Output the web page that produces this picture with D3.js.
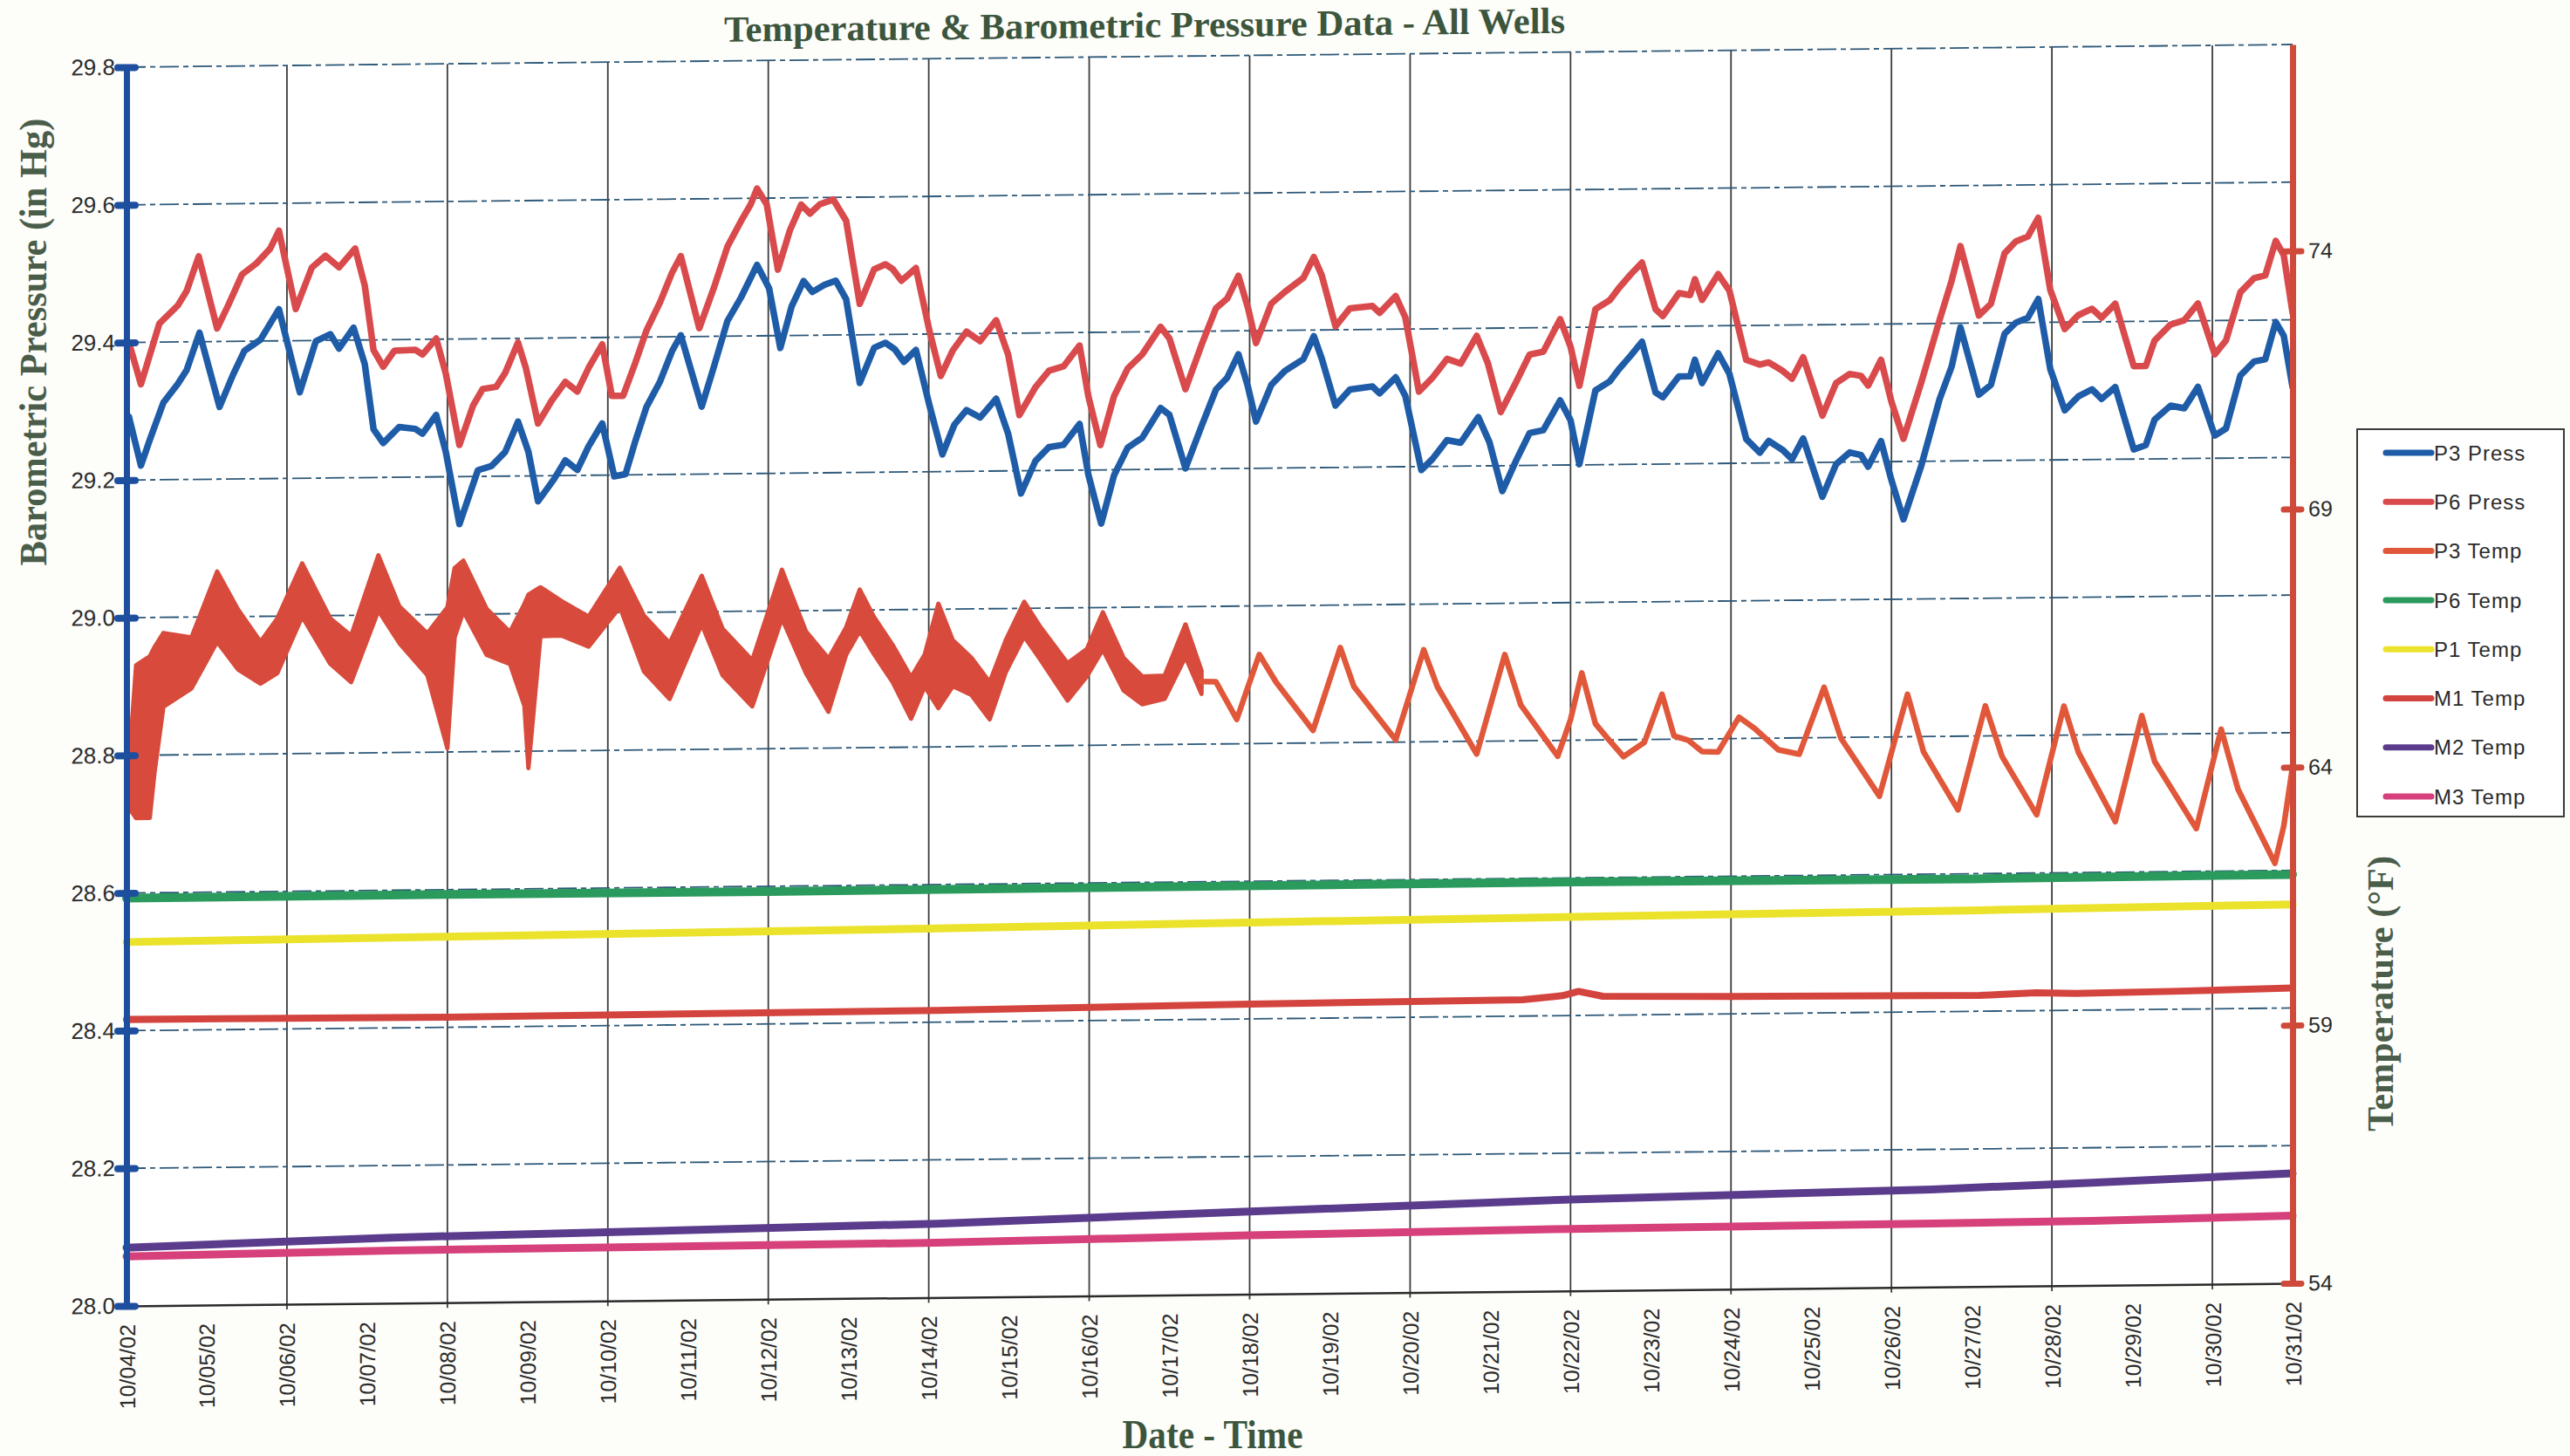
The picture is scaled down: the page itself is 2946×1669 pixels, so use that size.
<!DOCTYPE html>
<html>
<head>
<meta charset="utf-8">
<script src="https://cdn.jsdelivr.net/npm/d3@7"></script>
<style>
  body { margin: 0; background: #fdfdf9; }
</style>
</head>
<body>
<div id="chart"></div>
<script>
// x = days since 10/04/02 00:00
const dateLabels = ['10/04/02', '10/05/02', '10/06/02', '10/07/02', '10/08/02', '10/09/02', '10/10/02',
  '10/11/02', '10/12/02', '10/13/02', '10/14/02', '10/15/02', '10/16/02', '10/17/02', '10/18/02',
  '10/19/02', '10/20/02', '10/21/02', '10/22/02', '10/23/02', '10/24/02', '10/25/02', '10/26/02',
  '10/27/02', '10/28/02', '10/29/02', '10/30/02', '10/31/02'];
const leftTicks = [28.0, 28.2, 28.4, 28.6, 28.8, 29.0, 29.2, 29.4, 29.6, 29.8];
const rightTicks = [54, 59, 64, 69, 74];

const p6PressDays = [0.03, 0.18, 0.41, 0.64, 0.75, 0.90, 1.13, 1.27, 1.44, 1.62, 1.79, 1.90, 2.11, 2.31, 2.48, 2.65, 2.85, 2.97,
  3.08, 3.20, 3.34, 3.60, 3.69, 3.86, 3.98, 4.15, 4.32, 4.44, 4.61, 4.72, 4.88, 4.98, 5.13, 5.30, 5.47, 5.62, 5.76, 5.93,
  6.05, 6.19, 6.34, 6.48, 6.65, 6.80, 6.91, 7.14, 7.32, 7.49, 7.66, 7.78, 7.86, 7.98, 8.12, 8.27, 8.41, 8.52, 8.64, 8.81,
  8.97, 9.14, 9.32, 9.46, 9.55, 9.66, 9.84, 10.01, 10.15, 10.30, 10.47, 10.64, 10.84, 10.99, 11.13, 11.33, 11.50, 11.68,
  11.88, 11.99, 12.14, 12.31, 12.48, 12.66, 12.89, 13.00, 13.20, 13.40, 13.58, 13.72, 13.86, 13.98, 14.08, 14.27, 14.44,
  14.67, 14.80, 14.90, 15.07, 15.25, 15.53, 15.62, 15.82, 15.94, 16.11, 16.28, 16.46, 16.63, 16.83, 16.97, 17.13, 17.32,
  17.49, 17.66, 17.87, 18.00, 18.11, 18.31, 18.49, 18.60, 18.75, 18.89, 19.06, 19.15, 19.35, 19.49, 19.55, 19.64, 19.84,
  19.98, 20.19, 20.36, 20.47, 20.65, 20.76, 20.90, 21.14, 21.31, 21.48, 21.62, 21.71, 21.87, 22.00, 22.15, 22.37, 22.60,
  22.75, 22.86, 23.09, 23.24, 23.41, 23.55, 23.70, 23.83, 23.98, 24.16, 24.33, 24.50, 24.62, 24.79, 25.02, 25.17, 25.28,
  25.48, 25.65, 25.82, 26.03, 26.17, 26.35, 26.52, 26.66, 26.79, 26.89, 27.00];
const p6Press = [29.400, 29.339, 29.427, 29.453, 29.474, 29.524, 29.419, 29.453, 29.497, 29.513, 29.534, 29.560, 29.446,
  29.506, 29.523, 29.506, 29.533, 29.479, 29.385, 29.361, 29.384, 29.385, 29.378, 29.401, 29.350, 29.246, 29.303, 29.327,
  29.330, 29.350, 29.394, 29.356, 29.276, 29.309, 29.336, 29.322, 29.356, 29.390, 29.315, 29.315, 29.362, 29.409, 29.450,
  29.493, 29.517, 29.412, 29.470, 29.530, 29.567, 29.591, 29.614, 29.591, 29.496, 29.553, 29.590, 29.577, 29.590, 29.597,
  29.566, 29.445, 29.495, 29.502, 29.495, 29.478, 29.496, 29.404, 29.339, 29.376, 29.403, 29.389, 29.419, 29.369, 29.281,
  29.321, 29.345, 29.351, 29.381, 29.307, 29.236, 29.307, 29.347, 29.367, 29.407, 29.390, 29.316, 29.380, 29.433, 29.447,
  29.480, 29.433, 29.382, 29.439, 29.456, 29.476, 29.506, 29.479, 29.405, 29.431, 29.434, 29.424, 29.448, 29.417, 29.309,
  29.329, 29.356, 29.349, 29.389, 29.349, 29.278, 29.321, 29.361, 29.365, 29.412, 29.372, 29.315, 29.426, 29.439, 29.456,
  29.476, 29.493, 29.425, 29.415, 29.448, 29.445, 29.468, 29.438, 29.475, 29.451, 29.350, 29.343, 29.346, 29.333, 29.322,
  29.353, 29.268, 29.315, 29.328, 29.325, 29.311, 29.348, 29.287, 29.233, 29.314, 29.405, 29.462, 29.512, 29.411, 29.428,
  29.501, 29.518, 29.525, 29.552, 29.447, 29.390, 29.410, 29.419, 29.406, 29.426, 29.335, 29.335, 29.372, 29.395, 29.401,
  29.425, 29.351, 29.371, 29.441, 29.461, 29.465, 29.515, 29.494, 29.410];

const p3PressDays = [0.03, 0.18, 0.29, 0.46, 0.64, 0.75, 0.91, 1.16, 1.33, 1.47, 1.67, 1.90, 2.16, 2.36, 2.54, 2.65, 2.83, 2.97,
  3.08, 3.20, 3.40, 3.60, 3.69, 3.86, 3.98, 4.15, 4.38, 4.55, 4.72, 4.88, 5.01, 5.13, 5.33, 5.47, 5.62, 5.76, 5.93, 6.08,
  6.22, 6.34, 6.48, 6.65, 6.80, 6.91, 7.17, 7.32, 7.49, 7.66, 7.86, 8.01, 8.15, 8.29, 8.44, 8.55, 8.70, 8.84, 8.97, 9.14,
  9.32, 9.46, 9.58, 9.69, 9.84, 10.01, 10.17, 10.32, 10.47, 10.64, 10.84, 10.99, 11.15, 11.33, 11.50, 11.68, 11.88, 11.99,
  12.15, 12.31, 12.48, 12.66, 12.89, 13.00, 13.20, 13.40, 13.58, 13.72, 13.86, 13.98, 14.08, 14.27, 14.44, 14.67, 14.80,
  14.90, 15.07, 15.25, 15.53, 15.62, 15.82, 15.94, 16.14, 16.28, 16.46, 16.63, 16.85, 16.99, 17.15, 17.32, 17.49, 17.66,
  17.87, 18.00, 18.11, 18.31, 18.49, 18.60, 18.75, 18.89, 19.06, 19.15, 19.35, 19.49, 19.55, 19.64, 19.84, 19.98, 20.19,
  20.36, 20.47, 20.65, 20.76, 20.90, 21.14, 21.31, 21.48, 21.62, 21.71, 21.87, 22.00, 22.15, 22.37, 22.60, 22.75, 22.86,
  23.09, 23.24, 23.41, 23.55, 23.70, 23.83, 23.98, 24.16, 24.33, 24.50, 24.62, 24.79, 25.02, 25.17, 25.28, 25.48, 25.65,
  25.82, 26.03, 26.17, 26.35, 26.52, 26.66, 26.79, 26.89, 27.00];
const p3Press = [29.292, 29.221, 29.258, 29.312, 29.339, 29.359, 29.413, 29.305, 29.352, 29.386, 29.402, 29.446, 29.325,
  29.399, 29.409, 29.388, 29.418, 29.365, 29.270, 29.250, 29.273, 29.270, 29.263, 29.290, 29.236, 29.131, 29.209, 29.215,
  29.235, 29.279, 29.235, 29.163, 29.195, 29.222, 29.208, 29.242, 29.275, 29.198, 29.201, 29.248, 29.298, 29.335, 29.379,
  29.402, 29.298, 29.355, 29.422, 29.456, 29.503, 29.469, 29.382, 29.442, 29.479, 29.463, 29.473, 29.479, 29.452, 29.330,
  29.381, 29.388, 29.378, 29.360, 29.377, 29.296, 29.225, 29.268, 29.289, 29.278, 29.305, 29.254, 29.167, 29.214, 29.234,
  29.237, 29.267, 29.193, 29.122, 29.192, 29.232, 29.246, 29.289, 29.279, 29.201, 29.262, 29.315, 29.332, 29.366, 29.318,
  29.268, 29.321, 29.341, 29.358, 29.391, 29.358, 29.290, 29.313, 29.317, 29.307, 29.330, 29.303, 29.195, 29.211, 29.238,
  29.234, 29.271, 29.234, 29.163, 29.207, 29.247, 29.251, 29.294, 29.265, 29.201, 29.308, 29.321, 29.338, 29.358, 29.378,
  29.304, 29.297, 29.327, 29.327, 29.351, 29.317, 29.360, 29.330, 29.235, 29.215, 29.232, 29.218, 29.205, 29.235, 29.150,
  29.197, 29.214, 29.210, 29.193, 29.230, 29.173, 29.116, 29.193, 29.290, 29.337, 29.394, 29.296, 29.310, 29.384, 29.400,
  29.407, 29.434, 29.332, 29.272, 29.292, 29.302, 29.288, 29.305, 29.214, 29.220, 29.257, 29.277, 29.273, 29.304, 29.233,
  29.243, 29.320, 29.340, 29.343, 29.397, 29.377, 29.302];

// P3 Temp: noisy logger band (high / low envelope) until 10/17, then a clean trace
const p3BandDays = [0.00, 0.12, 0.29, 0.35, 0.46, 0.81, 1.13, 1.39, 1.67, 1.88, 2.19, 2.54, 2.80, 3.14, 3.40, 3.75, 4.00,
  4.09, 4.20, 4.49, 4.78, 4.96, 5.01, 5.16, 5.42, 5.76, 6.15, 6.45, 6.77, 7.17, 7.43, 7.80, 8.17, 8.47, 8.75, 8.97, 9.14,
  9.32, 9.55, 9.78, 9.95, 10.12, 10.30, 10.53, 10.76, 10.96, 11.19, 11.39, 11.73, 11.97, 12.17, 12.43, 12.66, 12.94, 13.20,
  13.40];
const p3BandHi = [63.81, 66.41, 66.58, 66.76, 67.03, 66.94, 68.21, 67.47, 66.84, 67.29, 68.35, 67.28, 66.94, 68.49, 67.50,
  66.97, 67.47, 68.23, 68.37, 67.43, 66.98, 67.52, 67.70, 67.84, 67.57, 67.26, 68.20, 67.27, 66.73, 68.03, 67.00, 66.38,
  68.13, 66.93, 66.40, 67.00, 67.73, 67.19, 66.65, 66.02, 66.46, 67.44, 66.73, 66.39, 65.91, 66.72, 67.46, 66.97, 66.26,
  66.53, 67.24, 66.35, 65.99, 66.00, 66.99, 66.09];
const p3BandLo = [63.72, 63.45, 63.45, 64.34, 65.60, 65.95, 66.85, 66.31, 66.03, 66.23, 67.32, 66.40, 66.04, 67.42, 66.79,
  66.16, 64.74, 66.89, 67.39, 66.54, 66.36, 65.55, 64.34, 66.89, 66.90, 66.68, 67.44, 66.19, 65.65, 67.09, 66.10, 65.49,
  67.19, 66.12, 65.37, 66.47, 66.93, 66.47, 65.93, 65.22, 65.84, 65.42, 65.84, 65.67, 65.19, 66.10, 66.79, 66.34, 65.54,
  66.00, 66.52, 65.72, 65.45, 65.55, 66.36, 65.64];
const p3TempDays = [13.40, 13.58, 13.84, 13.98, 14.12, 14.33, 14.79, 15.13, 15.30, 15.82, 16.17, 16.34, 16.83, 17.18, 17.38,
  17.84, 18.00, 18.14, 18.31, 18.46, 18.66, 18.92, 19.14, 19.29, 19.47, 19.64, 19.84, 20.10, 20.30, 20.59, 20.85, 21.16,
  21.37, 21.85, 22.20, 22.40, 22.83, 23.17, 23.38, 23.81, 24.15, 24.33, 24.79, 25.12, 25.28, 25.80, 26.11, 26.32, 26.78,
  26.89, 27.00];
const p3Temp = [65.88, 65.87, 65.14, 65.77, 66.39, 65.85, 64.91, 66.51, 65.75, 64.71, 66.45, 65.73, 64.42, 66.34, 65.36,
  64.36, 65.07, 65.97, 64.98, 64.70, 64.34, 64.61, 65.54, 64.73, 64.64, 64.42, 64.41, 65.08, 64.85, 64.44, 64.35, 65.64,
  64.65, 63.52, 65.49, 64.37, 63.24, 65.25, 64.26, 63.13, 65.23, 64.33, 62.98, 65.03, 64.14, 62.83, 64.75, 63.58, 62.14,
  62.86, 64.01];

const p6TempDays = [0, 4, 8, 13, 18, 23, 27];
const p6Temp = [61.90, 61.91, 61.90, 61.91, 61.92, 61.90, 61.92];
const p1TempDays = [0, 4, 10.1, 14, 18.5, 23.1, 27];
const p1Temp = [61.05, 61.09, 61.15, 61.20, 61.25, 61.29, 61.34];
const m1TempDays = [0, 4, 10.1, 14, 17.4, 17.9, 18.1, 18.4, 20, 23.1, 23.8, 24.3, 25.5, 27];
const m1Temp = [59.55, 59.53, 59.56, 59.62, 59.65, 59.72, 59.80, 59.70, 59.67, 59.64, 59.68, 59.66, 59.68, 59.72];
const m2TempDays = [0, 3.3, 6.3, 10.1, 14, 18, 22.5, 24.5, 27];
const m2Temp = [55.13, 55.27, 55.34, 55.43, 55.60, 55.77, 55.89, 55.99, 56.13];
const m3TempDays = [0, 3.3, 10.1, 14, 18, 22.5, 24.5, 27];
const m3Temp = [54.96, 55.02, 55.06, 55.14, 55.20, 55.23, 55.25, 55.31];

const legendNames = ['P3 Press', 'P6 Press', 'P3 Temp', 'P6 Temp', 'P1 Temp', 'M1 Temp', 'M2 Temp', 'M3 Temp'];
const legendColors = ['#1f5ca8', '#d94a4c', '#e0573a', '#2b9a5d', '#ebe22b', '#d4443f', '#5b3c8c', '#d6407b'];

const W = 2946, H = 1669;
const plot = { left: 145, right: 2628, top: 77, bottom: 1497 };

const x = d3.scaleLinear().domain([0, 27]).range([plot.left, plot.right]);
const yL = d3.scaleLinear().domain([28, 29.8]).range([plot.bottom, plot.top]);
const yR = d3.scaleLinear().domain([54, 78]).range([plot.bottom, plot.top]);

const svg = d3.select('#chart').append('svg')
  .attr('width', W)
  .attr('height', H)
  .style('display', 'block');

svg.append('rect').attr('width', W).attr('height', H).attr('fill', '#fdfdf9');

// the scanned page sits slightly tilted, so the plot gets a small skew
const g = svg.append('g')
  .attr('transform', 'translate(' + plot.left + ',0) skewY(-0.6) translate(' + (-plot.left) + ',0)');

g.append('rect')
  .attr('x', plot.left).attr('y', plot.top)
  .attr('width', plot.right - plot.left).attr('height', plot.bottom - plot.top)
  .attr('fill', '#ffffff');

// vertical gridlines every other day
g.selectAll('.vgrid')
  .data(d3.range(2, 27, 2))
  .enter().append('line')
  .attr('class', 'vgrid')
  .attr('x1', d => x(d)).attr('x2', d => x(d))
  .attr('y1', plot.top).attr('y2', plot.bottom + 6)
  .attr('stroke', '#3c3c3c')
  .attr('stroke-width', 1.8);

// horizontal gridlines
g.selectAll('.hgrid')
  .data(leftTicks.slice(1))
  .enter().append('line')
  .attr('class', 'hgrid')
  .attr('x1', plot.left).attr('x2', plot.right)
  .attr('y1', d => yL(d)).attr('y2', d => yL(d))
  .attr('stroke', '#2d5878')
  .attr('stroke-width', 1.8)
  .attr('stroke-dasharray', '22,5,6,5');

const toPts = (days, vals) => days.map((d, i) => [d, vals[i]]);

const lineL = d3.line().x(d => x(d[0])).y(d => yL(d[1]));
const lineR = d3.line().x(d => x(d[0])).y(d => yR(d[1]));

function drawLine(line, pts, color, width) {
  g.append('path')
    .attr('d', line(pts))
    .attr('fill', 'none')
    .attr('stroke', color)
    .attr('stroke-width', width)
    .attr('stroke-linejoin', 'round')
    .attr('stroke-linecap', 'round');
}

// temperature series (secondary axis)
drawLine(lineR, toPts(m3TempDays, m3Temp), legendColors[7], 9);
drawLine(lineR, toPts(m2TempDays, m2Temp), legendColors[6], 9);
drawLine(lineR, toPts(m1TempDays, m1Temp), legendColors[5], 8);
drawLine(lineR, toPts(p1TempDays, p1Temp), legendColors[4], 9);
drawLine(lineR, toPts(p6TempDays, p6Temp), legendColors[3], 10);

const band = d3.area()
  .x((d, i) => x(p3BandDays[i]))
  .y0((d, i) => yR(p3BandLo[i]))
  .y1((d, i) => yR(p3BandHi[i]));
g.append('path')
  .attr('d', band(p3BandDays))
  .attr('fill', '#d84b3c')
  .attr('stroke', '#d84b3c')
  .attr('stroke-width', 5)
  .attr('stroke-linejoin', 'round');
drawLine(lineR, toPts(p3TempDays, p3Temp), legendColors[2], 6.5);

// pressure series (primary axis)
drawLine(lineL, toPts(p6PressDays, p6Press), legendColors[1], 7.5);
drawLine(lineL, toPts(p3PressDays, p3Press), legendColors[0], 7.5);

// bottom axis
const xAxis = g.append('g')
  .attr('transform', 'translate(0,' + plot.bottom + ')')
  .call(d3.axisBottom(x).tickValues(d3.range(0, 28)).tickFormat(i => dateLabels[i]).tickSize(0).tickSizeOuter(0));
xAxis.select('.domain').attr('stroke', '#2a2a2a').attr('stroke-width', 2.5);
xAxis.selectAll('text')
  .attr('transform', 'rotate(-90)')
  .attr('x', -21).attr('y', 0).attr('dy', '0.36em')
  .style('text-anchor', 'end')
  .attr('font-family', 'Liberation Sans, Arial, sans-serif')
  .attr('font-size', 25)
  .attr('fill', '#2b2b2b');

// left axis
const yAxisL = g.append('g')
  .attr('transform', 'translate(' + plot.left + ',0)')
  .call(d3.axisLeft(yL).tickValues(leftTicks).tickFormat(d3.format('.1f')).tickSize(11).tickPadding(2).tickSizeOuter(0));
yAxisL.select('.domain').attr('stroke', '#1d4f9e').attr('stroke-width', 7);
yAxisL.selectAll('.tick line')
  .attr('x1', -10).attr('x2', 10)
  .attr('stroke', '#1d4f9e').attr('stroke-width', 8).attr('stroke-linecap', 'round');
yAxisL.selectAll('text')
  .attr('font-family', 'Liberation Sans, Arial, sans-serif')
  .attr('font-size', 26)
  .attr('fill', '#2b2b2b');

// right axis
const yAxisR = g.append('g')
  .attr('transform', 'translate(' + plot.right + ',0)')
  .call(d3.axisRight(yR).tickValues(rightTicks).tickSize(10).tickPadding(8).tickSizeOuter(0));
yAxisR.select('.domain').attr('stroke', '#cf4a3a').attr('stroke-width', 7);
yAxisR.selectAll('.tick line')
  .attr('x1', -10).attr('x2', 10)
  .attr('stroke', '#cf4a3a').attr('stroke-width', 7).attr('stroke-linecap', 'round');
yAxisR.selectAll('text')
  .attr('font-family', 'Liberation Sans, Arial, sans-serif')
  .attr('font-size', 25)
  .attr('fill', '#2b2b2b');

// titles
g.append('text')
  .attr('x', 1312).attr('y', 55)
  .attr('text-anchor', 'middle')
  .attr('font-family', 'Liberation Serif, Times New Roman, serif')
  .attr('font-weight', 'bold')
  .attr('font-size', 42)
  .attr('textLength', 964)
  .attr('lengthAdjust', 'spacingAndGlyphs')
  .attr('fill', '#3c553d')
  .text('Temperature & Barometric Pressure Data - All Wells');

svg.append('text')
  .attr('transform', 'translate(53,392) rotate(-90)')
  .attr('text-anchor', 'middle')
  .attr('font-family', 'Liberation Serif, Times New Roman, serif')
  .attr('font-weight', 'bold')
  .attr('font-size', 45)
  .attr('textLength', 513)
  .attr('lengthAdjust', 'spacingAndGlyphs')
  .attr('fill', '#4a5d4a')
  .text('Barometric Pressure (in Hg)');

svg.append('text')
  .attr('transform', 'translate(2743,1139) rotate(-90)')
  .attr('text-anchor', 'middle')
  .attr('font-family', 'Liberation Serif, Times New Roman, serif')
  .attr('font-weight', 'bold')
  .attr('font-size', 42)
  .attr('textLength', 316)
  .attr('lengthAdjust', 'spacingAndGlyphs')
  .attr('fill', '#4a5d4a')
  .text('Temperature (°F)');

svg.append('text')
  .attr('x', 1390).attr('y', 1660)
  .attr('text-anchor', 'middle')
  .attr('font-family', 'Liberation Serif, Times New Roman, serif')
  .attr('font-weight', 'bold')
  .attr('font-size', 46)
  .attr('textLength', 207)
  .attr('lengthAdjust', 'spacingAndGlyphs')
  .attr('fill', '#3c553d')
  .text('Date - Time');

// legend
const legend = svg.append('g').attr('transform', 'translate(2702,492)');
legend.append('rect')
  .attr('width', 237).attr('height', 444)
  .attr('fill', '#ffffff')
  .attr('stroke', '#3a3a3a')
  .attr('stroke-width', 2);
const items = legend.selectAll('.item')
  .data(legendNames)
  .enter().append('g')
  .attr('class', 'item')
  .attr('transform', (d, i) => 'translate(0,' + (27 + i * 56.3) + ')');
items.append('line')
  .attr('x1', 33).attr('x2', 85)
  .attr('stroke', (d, i) => legendColors[i])
  .attr('stroke-width', 7)
  .attr('stroke-linecap', 'round');
items.append('text')
  .attr('x', 88).attr('dy', '0.36em')
  .attr('font-family', 'Liberation Sans, Arial, sans-serif')
  .attr('font-size', 24)
  .attr('letter-spacing', 1)
  .attr('fill', '#2b2b2b')
  .text(d => d);
</script>
</body>
</html>
